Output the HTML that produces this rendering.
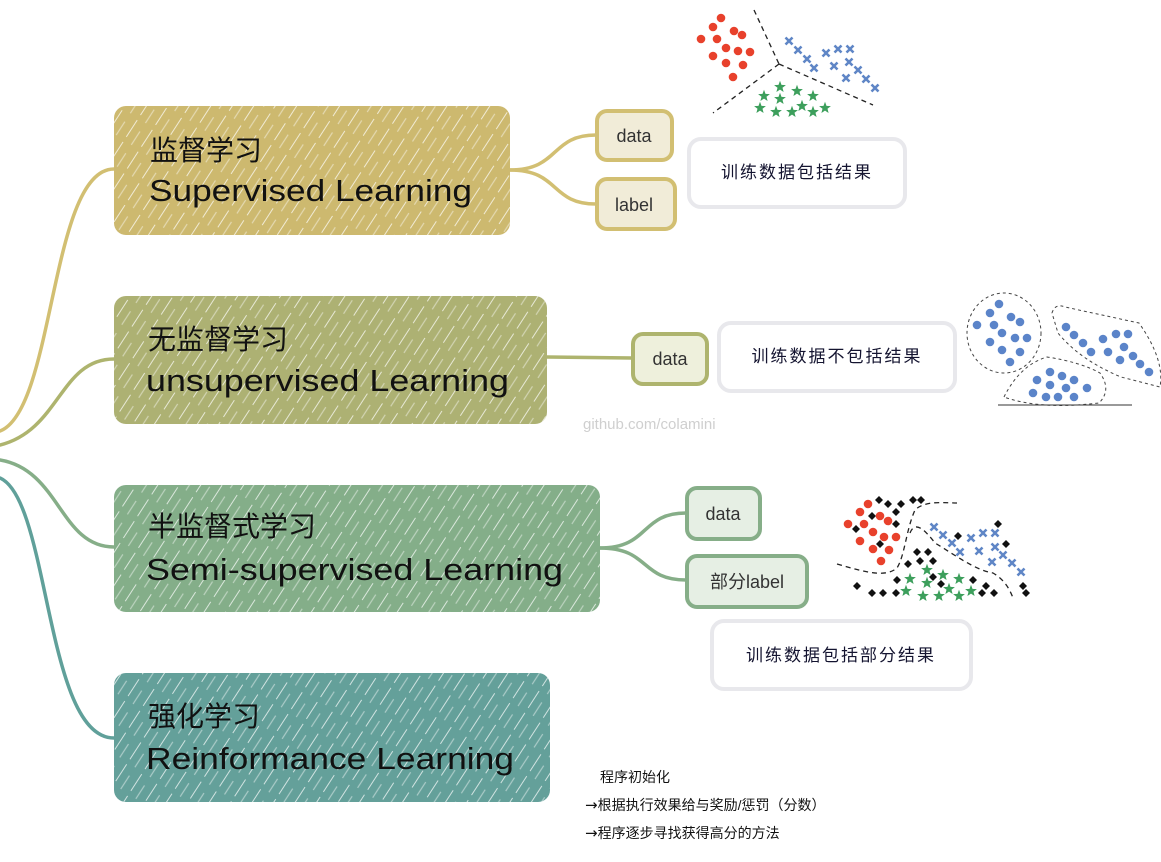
<!DOCTYPE html>
<html><head><meta charset="utf-8"><style>
html,body{margin:0;padding:0;background:#fff;}
svg{display:block;font-family:"Liberation Sans","Noto Sans CJK SC",sans-serif;}
</style></head><body>
<svg id="map" width="1161" height="862" viewBox="0 0 1161 862">
<defs>
<pattern id="hatch" width="18" height="26" patternUnits="userSpaceOnUse" patternTransform="rotate(33)">
<line x1="0" y1="0" x2="0" y2="20" stroke="#ffffff" stroke-width="2" opacity="0.7"/>
<line x1="9" y1="8" x2="9" y2="24" stroke="#ffffff" stroke-width="1.2" opacity="0.45"/>
</pattern>
</defs>
<g fill="none" stroke-width="3.5" stroke-linecap="round">
<path d="M0,431 C55,410 50,169 114,169" stroke="#d2bf72"/>
<path d="M0,445 C60,430 60,359 114,359" stroke="#aeb46e"/>
<path d="M0,460 C60,470 60,547 114,547" stroke="#86ae88"/>
<path d="M0,478 C50,500 45,738 114,738" stroke="#60a09a"/>
<path d="M510,170 C560,170 550,135 596,135" stroke="#d2bf72"/>
<path d="M510,170 C560,170 550,204 596,204" stroke="#d2bf72"/>
<path d="M547,357 L632,358" stroke="#aeb46e"/>
<path d="M600,548 C650,548 640,513 686,513" stroke="#86ae88"/>
<path d="M600,548 C650,548 640,580 686,580" stroke="#86ae88"/>
</g>

<g>
<rect x="114" y="106" width="396" height="129" rx="12" fill="#cdb96f"/>
<rect x="114" y="106" width="396" height="129" rx="12" fill="url(#hatch)"/>
<text x="150" y="160" font-size="28" fill="#111">监督学习</text>
<text x="149" y="201" font-size="31" fill="#111" textLength="323" lengthAdjust="spacingAndGlyphs">Supervised Learning</text>
</g>
<g>
<rect x="114" y="296" width="433" height="128" rx="12" fill="#adb173"/>
<rect x="114" y="296" width="433" height="128" rx="12" fill="url(#hatch)"/>
<text x="148" y="349" font-size="28" fill="#111">无监督学习</text>
<text x="146" y="391" font-size="31" fill="#111" textLength="363" lengthAdjust="spacingAndGlyphs">unsupervised Learning</text>
</g>
<g>
<rect x="114" y="485" width="486" height="127" rx="12" fill="#84ae89"/>
<rect x="114" y="485" width="486" height="127" rx="12" fill="url(#hatch)"/>
<text x="148" y="536" font-size="28" fill="#111">半监督式学习</text>
<text x="146" y="580" font-size="31" fill="#111" textLength="417" lengthAdjust="spacingAndGlyphs">Semi-supervised Learning</text>
</g>
<g>
<rect x="114" y="673" width="436" height="129" rx="12" fill="#64a09a"/>
<rect x="114" y="673" width="436" height="129" rx="12" fill="url(#hatch)"/>
<text x="148" y="726" font-size="28" fill="#111">强化学习</text>
<text x="146" y="769" font-size="31" fill="#111" textLength="368" lengthAdjust="spacingAndGlyphs">Reinformance Learning</text>
</g>

<g font-size="18" fill="#222">
<g><rect x="597" y="111" width="75" height="49" rx="10" fill="#f1ecd8" stroke="#d2bf72" stroke-width="4"/><text x="634" y="142" text-anchor="middle" fill="#333">data</text></g>
<g><rect x="597" y="179" width="78" height="50" rx="10" fill="#f1ecd8" stroke="#d2bf72" stroke-width="4"/><text x="634" y="211" text-anchor="middle" fill="#333">label</text></g>
<g><rect x="633" y="334" width="74" height="50" rx="10" fill="#eef0dc" stroke="#aeb46e" stroke-width="4"/><text x="670" y="365" text-anchor="middle" fill="#333">data</text></g>
<g><rect x="687" y="488" width="73" height="51" rx="10" fill="#e6efe4" stroke="#86ae88" stroke-width="4"/><text x="723" y="520" text-anchor="middle" fill="#333">data</text></g>
<g><rect x="687" y="556" width="120" height="51" rx="10" fill="#e6efe4" stroke="#86ae88" stroke-width="4"/><text x="747" y="588" text-anchor="middle" fill="#333">部分label</text></g>
</g>
<g font-size="17" fill="#141430">
<g><rect x="689" y="139" width="216" height="68" rx="12" fill="#fff" stroke="#e8e8ec" stroke-width="4"/><text x="797" y="178" text-anchor="middle" letter-spacing="2">训练数据包括结果</text></g>
<g><rect x="719" y="323" width="236" height="68" rx="12" fill="#fff" stroke="#e8e8ec" stroke-width="4"/><text x="837" y="362" text-anchor="middle" letter-spacing="2">训练数据不包括结果</text></g>
<g><rect x="712" y="621" width="259" height="68" rx="12" fill="#fff" stroke="#e8e8ec" stroke-width="4"/><text x="841" y="661" text-anchor="middle" letter-spacing="2">训练数据包括部分结果</text></g>
</g>

<text x="583" y="429" font-size="15" fill="#cfcfcf">github.com/colamini</text>
<g font-size="14" fill="#111">
<text x="600" y="782">程序初始化</text>
<text x="585" y="810"><tspan font-family="DejaVu Sans" font-size="15">→</tspan>根据执行效果给与奖励/惩罚（分数）</text>
<text x="585" y="838"><tspan font-family="DejaVu Sans" font-size="15">→</tspan>程序逐步寻找获得高分的方法</text>
</g>

<g id="plots"></g>
</svg>
<script>
const s1Red=[[721,18],[713,27],[734,31],[742,35],[701,39],[717,39],[726,48],[738,51],[750,52],[713,56],[726,63],[743,65],[733,77]];
const s1Blue=[[789,41],[798,50],[807,59],[814,68],[826,53],[838,49],[850,49],[834,66],[849,62],[858,70],[846,78],[866,79],[875,88]];
const s1Green=[[780,87],[797,91],[813,96],[764,96],[780,99],[760,108],[776,112],[792,112],[802,106],[813,112],[825,108]];
const s2A=[[999,304],[990,313],[1011,317],[1020,322],[977,325],[994,325],[1002,333],[1015,338],[1027,338],[990,342],[1002,350],[1020,352],[1010,362]];
const s2B=[[1066,327],[1074,335],[1083,343],[1091,352],[1103,339],[1116,334],[1128,334],[1108,352],[1124,347],[1120,360],[1133,356],[1140,364],[1149,372]];
const s2C=[[1050,372],[1062,376],[1074,380],[1037,380],[1050,385],[1066,388],[1087,388],[1033,393],[1046,397],[1058,397],[1074,397]];
const s3Red=[[868,504],[860,512],[880,516],[888,521],[848,524],[864,524],[873,532],[884,537],[896,537],[860,541],[873,549],[889,550],[881,561]];
const s3Black=[[879,500],[888,504],[901,504],[913,500],[921,500],[872,516],[896,512],[896,524],[856,529],[880,544],[917,552],[928,552],[908,564],[920,561],[933,561],[958,536],[998,524],[1006,544],[897,580],[857,586],[872,593],[883,593],[896,593],[933,577],[941,584],[973,580],[986,586],[982,593],[994,593],[1023,586],[1026,593]];
const s3Blue=[[934,527],[943,535],[952,543],[960,552],[971,538],[983,533],[995,533],[979,551],[995,547],[1003,555],[992,562],[1012,563],[1021,572]];
const s3Green=[[927,570],[910,579],[927,583],[943,575],[959,579],[906,591],[923,596],[939,596],[949,589],[959,596],[971,591]];

const NS='http://www.w3.org/2000/svg';
const root=document.getElementById('plots');
function mk(tag,attrs){const e=document.createElementNS(NS,tag);for(const k in attrs)e.setAttribute(k,attrs[k]);root.appendChild(e);return e;}
function dot(p,c,r){const e=mk('circle',{cx:p[0],cy:p[1],r:r,fill:c});

}
function cross(p,c){const d=3.5;const e=mk('path',{d:`M${p[0]-d},${p[1]-d}L${p[0]+d},${p[1]+d}M${p[0]+d},${p[1]-d}L${p[0]-d},${p[1]+d}`,stroke:c,'stroke-width':2.6,fill:'none'});

}
function star(p,c){let pts=[];for(let i=0;i<10;i++){const r=i%2?2.6:6.2;const a=-Math.PI/2+i*Math.PI/5;pts.push((p[0]+r*Math.cos(a)).toFixed(1)+','+(p[1]+r*Math.sin(a)).toFixed(1));}
const e=mk('polygon',{points:pts.join(' '),fill:c});

}
function diamond(p){const d=4;const e=mk('polygon',{points:`${p[0]},${p[1]-d} ${p[0]+d},${p[1]} ${p[0]},${p[1]+d} ${p[0]-d},${p[1]}`,fill:'#111'});

}
function dash(d,w){const e=mk('path',{d:d,fill:'none',stroke:w||'#222','stroke-width':1.3,'stroke-dasharray':'5,4'});

}

dash('M754,10 L779,64');dash('M779,64 L713,113');dash('M779,64 L873,105');
s1Red.forEach(p=>dot(p,'#e8412c',4.3));
s1Blue.forEach(p=>cross(p,'#5f86c6'));
s1Green.forEach(p=>star(p,'#3d9f5c'));
let e=mk('ellipse',{cx:1004,cy:333,rx:37,ry:40,fill:'none',stroke:'#444','stroke-width':1,'stroke-dasharray':'3,3'});


e=mk('path',{d:'M1052,313 Q1055,303 1065,307 L1139,323 Q1165,360 1160,387 L1121,377 Q1080,360 1058,333 Z',fill:'none',stroke:'#444','stroke-width':1,'stroke-dasharray':'3,3'});


e=mk('path',{d:'M1004,397 Q1020,365 1047,357 Q1080,362 1100,373 Q1112,390 1099,403 Q1040,410 1004,397 Z',fill:'none',stroke:'#444','stroke-width':1,'stroke-dasharray':'3,3'});


e=mk('line',{x1:998,y1:405,x2:1132,y2:405,stroke:'#333','stroke-width':1});


[s2A,s2B,s2C].forEach(arr=>arr.forEach(p=>dot(p,'#5b84c9',4.3)));
dash('M837,564 C865,572 885,578 897,568 C905,555 906,530 915,510 C925,500 945,503 957,503');
dash('M910,533 C915,520 925,530 935,543 C955,555 975,570 993,573 C1005,580 1010,590 1013,598');
s3Black.forEach(p=>diamond(p));
s3Red.forEach(p=>dot(p,'#e8412c',4.3));
s3Blue.forEach(p=>cross(p,'#5f86c6'));
s3Green.forEach(p=>star(p,'#3d9f5c'));
</script>
</body></html>
